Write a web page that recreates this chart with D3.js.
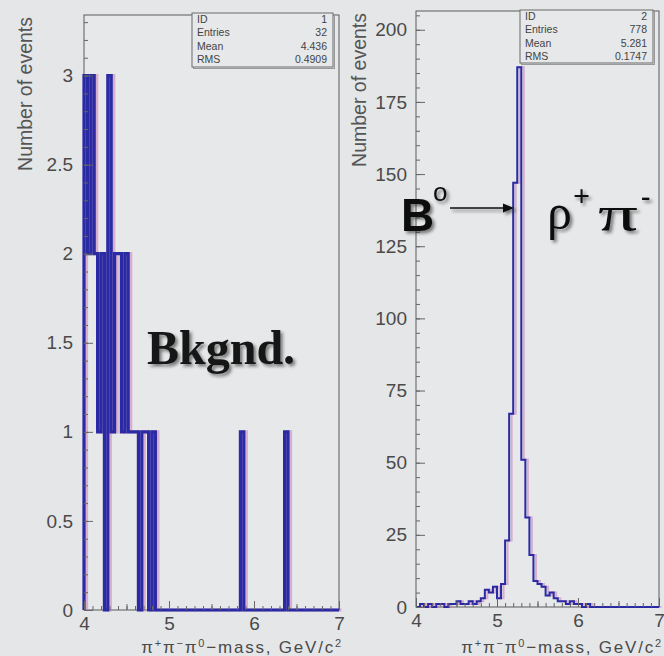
<!DOCTYPE html>
<html><head><meta charset="utf-8">
<script src="https://cdn.jsdelivr.net/npm/d3@7"></script>
<style>html,body{margin:0;padding:0;background:#e4e6e7;} svg{display:block}</style>
</head><body>
<svg id="c" width="664" height="656"></svg>
<script>
// ---------------- data ----------------
const xTickValues = [4, 5, 6, 7];
const bkgYTickValues = [0, 0.5, 1, 1.5, 2, 2.5, 3];
const sigYTickValues = [0, 25, 50, 75, 100, 125, 150, 175, 200];

// background histogram: lower bin edges (GeV/c^2) and counts, bin width 0.04
const bkgBinWidth = 0.04;
const bkgBinLow = [4.00, 4.04, 4.08, 4.12, 4.16, 4.20, 4.28, 4.32, 4.36, 4.40, 4.44, 4.48, 4.52, 4.56, 4.60, 4.68, 4.72, 4.80, 5.84, 6.36];
const bkgCounts = [3, 2, 3, 2, 1, 2, 3, 1, 2, 2, 1, 2, 1, 1, 1, 1, 1, 1, 1, 1];

// signal histogram: counts in 0.05-wide bins from 4.00 to 7.00
const sigBinWidth = 0.05;
const sigStart = 4.0;
const sigCounts = [
  0, 1, 0, 1, 0, 1, 1, 0, 1, 1,
  2, 1, 1, 2, 1, 2, 3, 6, 5, 7,
  3, 8, 23, 67, 147, 187, 51, 31, 18, 9,
  8, 7, 4, 5, 3, 2, 2, 1, 2, 1,
  1, 0, 1, 0, 0, 0, 0, 0, 0, 0,
  0, 0, 0, 0, 0, 0, 0, 0, 0, 0
];

const statLabels = ["ID", "Entries", "Mean", "RMS"];
const bkgStats = ["1", "32", "4.436", "0.4909"];
const sigStats = ["2", "778", "5.281", "0.1747"];

// ---------------- drawing ----------------
const svg = d3.select("#c");
const defs = svg.append("defs");
defs.append("filter").attr("id", "sh").attr("x", "-10%").attr("y", "-20%").attr("width", "130%").attr("height", "150%")
  .append("feDropShadow").attr("dx", 2.5).attr("dy", 2.5).attr("stdDeviation", 1.6)
  .attr("flood-color", "#222").attr("flood-opacity", 0.55);

svg.append("rect").attr("width", 664).attr("height", 656).attr("fill", "#e4e6e7");

const TICK_FONT = "'Liberation Sans', Arial, sans-serif";
const SERIF = "'Liberation Serif', 'Times New Roman', serif";

function panel(cfg) {
  const g = svg.append("g");
  const x = d3.scaleLinear().domain([4, 7]).range([cfg.x0, cfg.x1]);
  const y = d3.scaleLinear().domain([0, cfg.yMax]).range([cfg.yBot, cfg.yTop]);

  // frame
  g.append("rect").attr("x", cfg.x0).attr("y", cfg.yTop)
    .attr("width", cfg.x1 - cfg.x0).attr("height", cfg.yBot - cfg.yTop)
    .attr("fill", "#e6e8e9").attr("stroke", "#5a5a5a").attr("stroke-width", 1);

  // histogram (dense bins)
  const bins = cfg.bins;
  const pts = [[4, 0]];
  bins.forEach(b => { pts.push([b.x0, b.n]); pts.push([b.x1, b.n]); });
  pts.push([7, 0]);
  const line = d3.line().x(d => x(d[0])).y(d => y(d[1]));
  g.append("path").attr("d", line(pts)).attr("fill", "none")
    .attr("stroke", "#c880b8").attr("stroke-width", cfg.sw).attr("opacity", 0.55)
    .attr("transform", "translate(2.5,0)");
  g.append("path").attr("d", line(pts)).attr("fill", "none")
    .attr("stroke", "#2a2aa4").attr("stroke-width", cfg.sw).attr("stroke-linejoin", "miter");

  // axes
  const ax = (axis) => { const a = g.append("g"); a.call(axis); a.select(".domain").remove(); return a; };
  const ya = ax(d3.axisLeft(y).tickValues(cfg.yTicks).tickSize(-9).tickPadding(cfg.yPad).tickFormat(d3.format("~g")));
  ya.attr("transform", `translate(${cfg.x0},0)`);
  ax(d3.axisLeft(y).tickValues(d3.range(0, cfg.yMax, cfg.yMinor)).tickSize(-4).tickFormat(""))
    .attr("transform", `translate(${cfg.x0},0)`);
  const xa = ax(d3.axisBottom(x).tickValues(xTickValues).tickSize(-9).tickPadding(7).tickFormat(d3.format("d")));
  xa.attr("transform", `translate(0,${cfg.yBot})`);
  ax(d3.axisBottom(x).tickValues(d3.range(4, 7.01, 0.1)).tickSize(-4).tickFormat(""))
    .attr("transform", `translate(0,${cfg.yBot})`);
  ax(d3.axisBottom(x).tickValues([4.5, 5.5, 6.5]).tickSize(-6).tickFormat(""))
    .attr("transform", `translate(0,${cfg.yBot})`);
  g.selectAll(".tick line").attr("stroke", "#666");
  g.selectAll(".tick text").attr("font-family", TICK_FONT).attr("font-size", 19).attr("fill", "#4a4a4a");

  // y title
  g.append("text").attr("transform", `translate(${cfg.ytX},${cfg.ytY}) rotate(-90)`)
    .attr("text-anchor", "end").attr("font-family", TICK_FONT).attr("font-size", 19.5)
    .attr("fill", "#555").text("Number of events");

  // x title
  const xt = g.append("text").attr("x", cfg.x1 + 4).attr("y", 653).attr("text-anchor", "end")
    .attr("font-family", TICK_FONT).attr("font-size", 17).attr("fill", "#4a4a4a").attr("letter-spacing", 1.8);
  const parts = [["π", 0], ["+", 1], ["π", 0], ["−", 1], ["π", 0], ["0", 1], ["−mass, GeV/c", 0], ["2", 1]];
  parts.forEach(p => {
    const t = xt.append("tspan").text(p[0]);
    if (p[1]) t.attr("font-size", 11).attr("baseline-shift", "super");
  });

  // stats box
  const sb = cfg.stat;
  g.append("rect").attr("x", sb.x + 1.5).attr("y", sb.y + 1.5).attr("width", sb.w).attr("height", sb.h)
    .attr("fill", "none").attr("stroke", "#9a9a9a").attr("stroke-width", 1);
  g.append("rect").attr("x", sb.x).attr("y", sb.y).attr("width", sb.w).attr("height", sb.h)
    .attr("fill", "#e6e8e9").attr("stroke", "#6a6a6a").attr("stroke-width", 1);
  statLabels.forEach((lab, i) => {
    g.append("text").attr("x", sb.x + 5).attr("y", sb.y + 10 + i * 13.4)
      .attr("font-family", TICK_FONT).attr("font-size", 10.5).attr("fill", "#444").text(lab);
    g.append("text").attr("x", sb.x + sb.w - 6).attr("y", sb.y + 10 + i * 13.4).attr("text-anchor", "end")
      .attr("font-family", TICK_FONT).attr("font-size", 10.5).attr("fill", "#444").text(cfg.statValues[i]);
  });
  return { x, y, g };
}

// dense bins
const bkgDense = [];
for (let i = 0; i < 75; i++) {
  const lo = 4 + i * bkgBinWidth;
  const j = bkgBinLow.findIndex(v => Math.abs(v - lo) < 1e-6);
  bkgDense.push({ x0: lo, x1: lo + bkgBinWidth, n: j >= 0 ? bkgCounts[j] : 0 });
}
const sigDense = sigCounts.map((n, i) => ({ x0: sigStart + i * sigBinWidth, x1: sigStart + (i + 1) * sigBinWidth, n }));

panel({
  x0: 84, x1: 339, yTop: 15, yBot: 610, yMax: 3.34, yTicks: bkgYTickValues, yMinor: 0.1, yPad: 11,
  bins: bkgDense, sw: 3.2, ytX: 32, ytY: 17,
  stat: { x: 192, y: 13, w: 141, h: 54 }, statValues: bkgStats
});
panel({
  x0: 416, x1: 659, yTop: 11, yBot: 607, yMax: 206.5, yTicks: sigYTickValues, yMinor: 5, yPad: 9,
  bins: sigDense, sw: 2, ytX: 366, ytY: 13,
  stat: { x: 520, y: 10, w: 133, h: 53 }, statValues: sigStats
});

// annotations
const ann = svg.append("g").attr("filter", "url(#sh)");
ann.append("text").attr("x", 147).attr("y", 364).attr("font-family", SERIF)
  .attr("font-weight", "bold").attr("font-size", 48).attr("fill", "#161616").text("Bkgnd.");
ann.append("text").attr("x", 401).attr("y", 231).attr("font-family", TICK_FONT)
  .attr("font-weight", "bold").attr("font-size", 46).attr("fill", "#111").text("B");
ann.append("text").attr("x", 433).attr("y", 201).attr("font-family", TICK_FONT)
  .attr("font-size", 26).attr("fill", "#111").text("o");
ann.append("line").attr("x1", 450).attr("x2", 505).attr("y1", 208).attr("y2", 208)
  .attr("stroke", "#111").attr("stroke-width", 1.6);
ann.append("path").attr("d", "M503,203.5 L514,208 L503,212.5 Z").attr("fill", "#111");
ann.append("text").attr("x", 547).attr("y", 229).attr("font-family", SERIF)
  .attr("font-size", 50).attr("fill", "#111").text("ρ");
ann.append("text").attr("x", 573).attr("y", 206).attr("font-family", SERIF)
  .attr("font-weight", "bold").attr("font-size", 30).attr("fill", "#111").text("+");
ann.append("text").attr("x", 598).attr("y", 231).attr("font-family", SERIF)
  .attr("font-size", 50).attr("textLength", 40).attr("lengthAdjust", "spacingAndGlyphs")
  .attr("fill", "#111").text("π");
ann.append("text").attr("x", 641).attr("y", 205).attr("font-family", SERIF)
  .attr("font-weight", "bold").attr("font-size", 28).attr("fill", "#111").text("-");
</script>
</body></html>
